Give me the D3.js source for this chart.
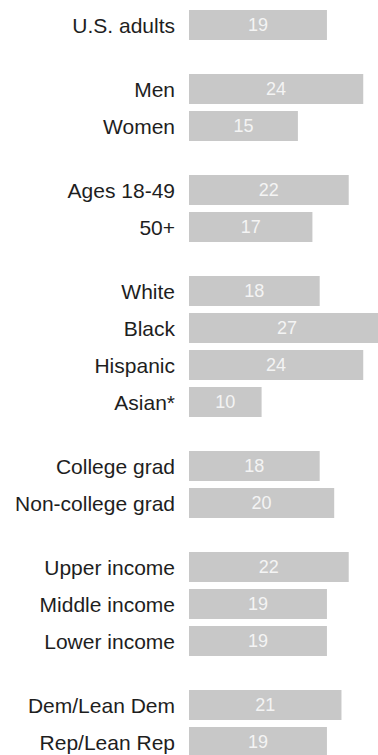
<!DOCTYPE html>
<html>
<head>
<meta charset="utf-8">
<script src="https://cdn.jsdelivr.net/npm/d3@7"></script>
<style>
  body { margin: 0; background: #fff; }
  svg { display: block; }
</style>
</head>
<body>
<div id="chart"></div>
<script>
const width = 378;
const height = 755;

// rows, top to bottom
const labels = ["U.S. adults", "Men", "Women", "Ages 18-49", "50+", "White", "Black", "Hispanic", "Asian*",
                "College grad", "Non-college grad", "Upper income", "Middle income", "Lower income",
                "Dem/Lean Dem", "Rep/Lean Rep"];
const values = [19, 24, 15, 22, 17, 18, 27, 24, 10, 18, 20, 22, 19, 19, 21, 19];
// group number of each row (extra gap between groups)
const groups = [0, 1, 1, 2, 2, 3, 3, 3, 3, 4, 4, 5, 5, 5, 6, 6];

const barLeft = 189;
const groupGap = 27;

const svg = d3.select("#chart").append("svg")
  .attr("width", width)
  .attr("height", height);

const x = d3.scaleLinear()
  .domain([0, 10])
  .range([0, 72.6]);

const y = d3.scaleBand()
  .domain(labels)
  .range([10, 595])
  .paddingInner(7 / 37)
  .paddingOuter(0);

const rowY = (d, i) => y(d) + groups[i] * groupGap;

const rows = svg.selectAll(".row")
  .data(labels)
  .join("g")
  .attr("class", "row")
  .attr("transform", (d, i) => `translate(0, ${rowY(d, i)})`);

rows.append("rect")
  .attr("x", barLeft)
  .attr("y", 0)
  .attr("width", (d, i) => x(values[i]))
  .attr("height", y.bandwidth())
  .attr("fill", "#c8c8c8");

rows.append("text")
  .text(d => d)
  .attr("x", barLeft - 14)
  .attr("y", y.bandwidth() / 2)
  .attr("dy", "0.36em")
  .attr("text-anchor", "end")
  .attr("font-family", "Liberation Sans, Arial, sans-serif")
  .attr("font-size", 21)
  .attr("fill", "#1e1e1e");

rows.append("text")
  .text((d, i) => values[i])
  .attr("x", (d, i) => barLeft + x(values[i]) / 2)
  .attr("y", y.bandwidth() / 2)
  .attr("dy", "0.36em")
  .attr("text-anchor", "middle")
  .attr("font-family", "Liberation Sans, Arial, sans-serif")
  .attr("font-size", 18)
  .attr("fill", "#f4f4f4");
</script>
</body>
</html>
